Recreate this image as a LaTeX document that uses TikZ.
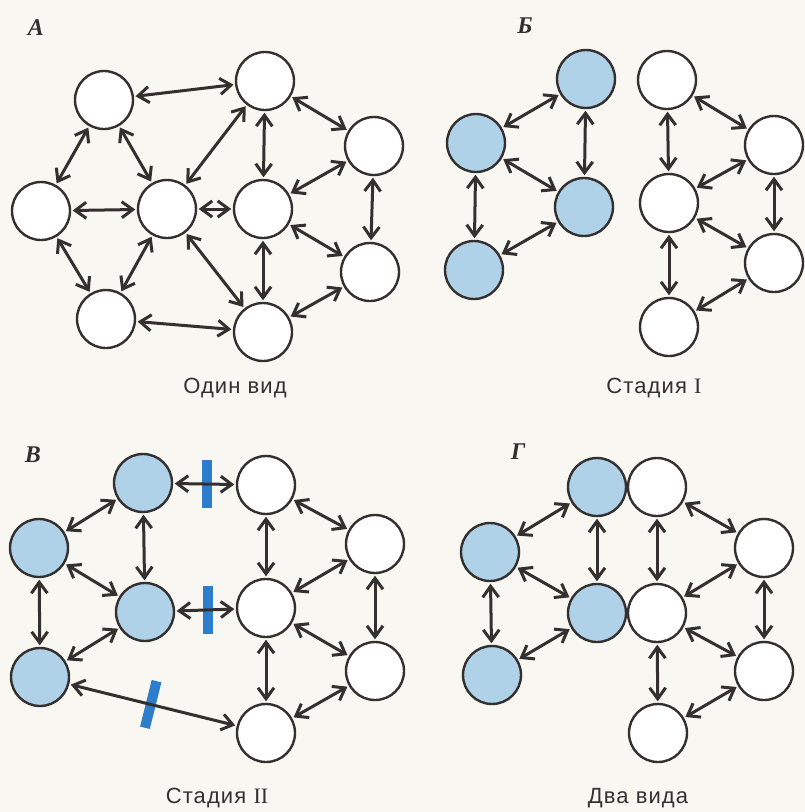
\documentclass[tikz,border=0pt]{standalone}
\usepackage{fontspec}
\setmainfont{Liberation Serif}
\newfontfamily\sansf[LetterSpace=5]{Liberation Sans}
\usetikzlibrary{arrows.meta,calc}
\definecolor{paper}{RGB}{249,247,241}
\definecolor{ink}{RGB}{52,48,48}
\definecolor{pale}{RGB}{176,210,233}
\definecolor{barblue}{RGB}{45,125,205}
\tikzset{
  spc/.style={circle, draw=ink, line width=2.4pt, fill=white, minimum size=58pt, inner sep=0pt},
  bluespc/.style={spc, fill=pale},
  link/.style={<->, draw=ink, line width=3pt, shorten <=1.5pt, shorten >=1.5pt},
  barrier/.style={rectangle, fill=barblue, minimum width=10pt, minimum height=48pt, inner sep=0pt},
  panel/.style={font=\bfseries\itshape\fontsize{24}{24}\selectfont, text=ink},
  caption/.style={font=\sansf\fontsize{22}{22}\selectfont, text=ink}
}
\begin{document}
\begin{tikzpicture}[x=1pt,y=-1pt,>={Straight Barb[length=11pt,width=16pt]}]
\fill[paper] (0,0) rectangle (805,812);
\useasboundingbox (0,0) rectangle (805,812);

% ---------- Panel A ----------
\node[panel] (lA) at (36,28) {A};
\node[spc] (a1) at (104,100) {};
\node[spc] (a2) at (41,211) {};
\node[spc] (a3) at (167,209) {};
\node[spc] (a4) at (106,319) {};
\node[spc] (a5) at (265,81) {};
\node[spc] (a6) at (263,209) {};
\node[spc] (a7) at (263,332) {};
\node[spc] (a8) at (374,146) {};
\node[spc] (a9) at (370,272) {};
\foreach \u/\v in {a1/a5,a1/a2,a1/a3,a2/a3,a2/a4,a4/a3,a4/a7,a3/a5,a3/a6,a3/a7,a5/a6,a5/a8,a6/a8,a8/a9,a6/a9,a6/a7,a7/a9}
  \draw[link] (\u) -- (\v);
\node[caption] (capA) at (235,388) {Один вид};

% ---------- Panel B ----------
\node[panel] (lB) at (525,26) {Б};
\node[bluespc] (b1) at (586,79) {};
\node[bluespc] (b2) at (476,143) {};
\node[bluespc] (b3) at (584,207) {};
\node[bluespc] (b4) at (474,270) {};
\node[spc] (b5) at (667,80) {};
\node[spc] (b6) at (669,203) {};
\node[spc] (b7) at (774,145) {};
\node[spc] (b8) at (774,263) {};
\node[spc] (b9) at (669,327) {};
\foreach \u/\v in {b2/b1,b1/b3,b2/b3,b2/b4,b4/b3,b5/b6,b5/b7,b6/b7,b7/b8,b6/b8,b6/b9,b9/b8}
  \draw[link] (\u) -- (\v);
\node[caption] (capB) at (654,388) {Стадия {\rmfamily I}};

% ---------- Panel C ----------
\node[panel] (lC) at (33,455) {В};
\node[bluespc] (c1) at (143,483) {};
\node[bluespc] (c2) at (39,548) {};
\node[bluespc] (c3) at (145,612) {};
\node[bluespc] (c4) at (40,677) {};
\node[spc] (c5) at (266,485) {};
\node[spc] (c6) at (266,608) {};
\node[spc] (c7) at (266,733) {};
\node[spc] (c8) at (375,544) {};
\node[spc] (c9) at (375,671) {};
\node[barrier] (x1) at ($(c1)!0.52!(c5)$) {};
\node[barrier] (x2) at ($(c3)!0.52!(c6)$) {};
\node[barrier, rotate=-14] (x3) at ($(c4)!0.49!(c7)$) {};
\foreach \u/\v in {c1/c2,c1/c3,c2/c3,c2/c4,c4/c3,c1/c5,c3/c6,c4/c7,c5/c6,c5/c8,c6/c8,c8/c9,c6/c9,c6/c7,c7/c9}
  \draw[link] (\u) -- (\v);
\node[caption] (capC) at (217,798) {Стадия {\rmfamily II}};

% ---------- Panel D ----------
\node[panel] (lD) at (518,452) {Г};
\node[bluespc] (d1) at (597,487) {};
\node[bluespc] (d2) at (490,552) {};
\node[bluespc] (d3) at (597,613) {};
\node[bluespc] (d4) at (492,675) {};
\node[spc] (d5) at (657,487) {};
\node[spc] (d6) at (657,613) {};
\node[spc] (d7) at (658,733) {};
\node[spc] (d8) at (764,548) {};
\node[spc] (d9) at (764,671) {};
\foreach \u/\v in {d1/d2,d1/d3,d2/d3,d2/d4,d4/d3,d5/d6,d5/d8,d6/d8,d8/d9,d6/d9,d6/d7,d7/d9}
  \draw[link] (\u) -- (\v);
\node[caption] (capD) at (638,798) {Два вида};
\end{tikzpicture}
\end{document}
